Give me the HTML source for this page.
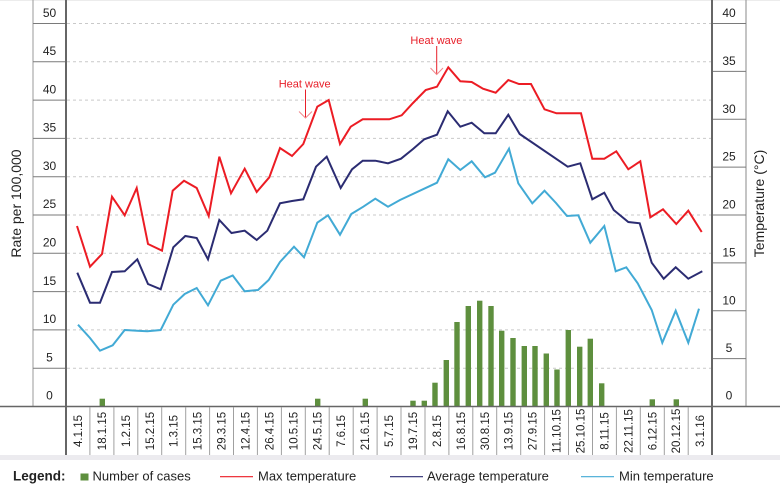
<!DOCTYPE html>
<html><head><meta charset="utf-8"><style>
html,body{margin:0;padding:0;background:#fff;}
svg{display:block;font-family:"Liberation Sans",Arial,sans-serif;}
</style></head><body>
<svg width="780" height="493" viewBox="0 0 780 493" xmlns="http://www.w3.org/2000/svg">
<rect x="0" y="0" width="780" height="493" fill="#fff"/>
<rect x="0" y="0" width="780" height="1" fill="#ececec"/>
<!-- gridlines -->
<g stroke="#c9c9c9" stroke-width="1" stroke-dasharray="3,3">
<line x1="67" y1="23.5" x2="711" y2="23.5"/>
<line x1="67" y1="61.8" x2="711" y2="61.8"/>
<line x1="67" y1="100.1" x2="711" y2="100.1"/>
<line x1="67" y1="138.4" x2="711" y2="138.4"/>
<line x1="67" y1="176.7" x2="711" y2="176.7"/>
<line x1="67" y1="215" x2="711" y2="215"/>
<line x1="67" y1="253.3" x2="711" y2="253.3"/>
<line x1="67" y1="291.6" x2="711" y2="291.6"/>
<line x1="67" y1="329.9" x2="711" y2="329.9"/>
<line x1="67" y1="368.2" x2="711" y2="368.2"/>
</g>
<!-- left axis box -->
<line x1="33" y1="0" x2="33" y2="406" stroke="#9a9a9a" stroke-width="1"/>
<g stroke="#7a7a7a" stroke-width="1">
<line x1="33" y1="23.5" x2="66" y2="23.5"/>
<line x1="33" y1="61.8" x2="66" y2="61.8"/>
<line x1="33" y1="100.1" x2="66" y2="100.1"/>
<line x1="33" y1="138.4" x2="66" y2="138.4"/>
<line x1="33" y1="176.7" x2="66" y2="176.7"/>
<line x1="33" y1="215" x2="66" y2="215"/>
<line x1="33" y1="253.3" x2="66" y2="253.3"/>
<line x1="33" y1="291.6" x2="66" y2="291.6"/>
<line x1="33" y1="329.9" x2="66" y2="329.9"/>
<line x1="33" y1="368.2" x2="66" y2="368.2"/>
</g>
<g font-size="12" fill="#222" text-anchor="middle">
<text x="49.5" y="17">50</text>
<text x="49.5" y="55">45</text>
<text x="49.5" y="93.3">40</text>
<text x="49.5" y="131.6">35</text>
<text x="49.5" y="169.9">30</text>
<text x="49.5" y="208.2">25</text>
<text x="49.5" y="246.5">20</text>
<text x="49.5" y="284.8">15</text>
<text x="49.5" y="323.1">10</text>
<text x="49.5" y="361.4">5</text>
<text x="49.5" y="399.3">0</text>
</g>
<!-- right axis box -->
<line x1="746" y1="0" x2="746" y2="406" stroke="#8a8a8a" stroke-width="1"/>
<g stroke="#7a7a7a" stroke-width="1">
<line x1="712" y1="23.5" x2="746" y2="23.5"/>
<line x1="712" y1="71.4" x2="746" y2="71.4"/>
<line x1="712" y1="119.3" x2="746" y2="119.3"/>
<line x1="712" y1="167.1" x2="746" y2="167.1"/>
<line x1="712" y1="215" x2="746" y2="215"/>
<line x1="712" y1="262.9" x2="746" y2="262.9"/>
<line x1="712" y1="310.8" x2="746" y2="310.8"/>
<line x1="712" y1="358.6" x2="746" y2="358.6"/>
</g>
<g font-size="12" fill="#222" text-anchor="middle">
<text x="729" y="17">40</text>
<text x="729" y="65">35</text>
<text x="729" y="112.8">30</text>
<text x="729" y="160.6">25</text>
<text x="729" y="208.5">20</text>
<text x="729" y="256.4">15</text>
<text x="729" y="304.3">10</text>
<text x="729" y="352.1">5</text>
<text x="729" y="399.3">0</text>
</g>
<!-- axis titles -->
<text transform="translate(21,203.5) rotate(-90)" font-size="14" fill="#222" text-anchor="middle">Rate per 100,000</text>
<text transform="translate(764,203.5) rotate(-90)" font-size="14" fill="#222" text-anchor="middle">Temperature (°C)</text>
<!-- bars -->
<g fill="#5e8f3e">
<rect x="99.6" y="398.7" width="5.4" height="7.3"/>
<rect x="315" y="398.7" width="5.4" height="7.3"/>
<rect x="362.6" y="398.7" width="5.4" height="7.3"/>
<rect x="410.3" y="400.7" width="5.4" height="5.3"/>
<rect x="421.6" y="400.7" width="5.4" height="5.3"/>
<rect x="432.3" y="382.7" width="5.4" height="23.3"/>
<rect x="443.6" y="360" width="5.4" height="46"/>
<rect x="454.3" y="322" width="5.4" height="84"/>
<rect x="465.6" y="306" width="5.4" height="100"/>
<rect x="477" y="300.7" width="5.4" height="105.3"/>
<rect x="488.3" y="306" width="5.4" height="100"/>
<rect x="499" y="330.7" width="5.4" height="75.3"/>
<rect x="510.3" y="338" width="5.4" height="68"/>
<rect x="521.6" y="346" width="5.4" height="60"/>
<rect x="532.3" y="346" width="5.4" height="60"/>
<rect x="543.6" y="353.5" width="5.4" height="52.5"/>
<rect x="554.3" y="369.5" width="5.4" height="36.5"/>
<rect x="565.6" y="330" width="5.4" height="76"/>
<rect x="577" y="346.7" width="5.4" height="59.3"/>
<rect x="587.6" y="338.7" width="5.4" height="67.3"/>
<rect x="599" y="383.3" width="5.4" height="22.7"/>
<rect x="649.6" y="399.3" width="5.4" height="6.7"/>
<rect x="673.6" y="399.3" width="5.4" height="6.7"/>
</g>
<!-- lines -->
<g fill="none" stroke-width="2" stroke-linejoin="miter" stroke-miterlimit="4">
<polyline stroke="#42aad5" points="78,324.7 90,338 100,350.7 112.7,345.3 124.7,330 137,330.7 147.3,331.3 160.7,330 173.3,304.7 184.7,294 196.7,288 208,305.3 220.7,280.7 232.7,275.5 244.7,291.3 258,290 268.7,280 280,262 294,246.7 304,257.3 317.3,222.7 328,215.3 340,234.7 351.3,214 363.3,206.7 375.3,198.7 388,206.7 400,200 437,182.7 448.3,159.3 460.3,170 471.7,161.3 485,177.3 495,172.7 509,148.7 518.3,183.3 532.3,203.3 544.5,190.7 556,203 567,216 578.3,215.3 590.3,242.7 604.3,226 615.7,271.3 626.3,267.3 637.7,283.3 651.7,310 662.3,342.7 675.7,310.7 688.3,342.7 699,308.7"/>
<polyline stroke="#2b2c72" points="77.3,272.7 90,302.7 100,302.7 112,272 124.7,271.3 137.3,259.3 148,284 160.7,289.3 173.3,247.3 185.3,236 196.7,238 208,259.3 219.3,220 231.5,233 244.7,230.7 256.7,240 267.3,230.7 280,203.3 292,201 303.3,199.3 316,166.7 326.7,156.7 340.7,188 352,169.3 362.7,160.7 375.3,160.7 388,163.3 401,158.7 413,149 424.3,139.3 437,134.7 447.7,111.3 460.3,126.7 471.7,122.7 484.3,133.3 495.7,133.3 508.3,114.7 519.7,134 567.7,166.7 580.3,163.3 592.3,199.3 604.3,192.7 613.7,210 628.3,222 639.7,223.3 651.7,262.7 663.7,278.7 675.7,267.3 688.3,278.7 702.3,271.3"/>
<polyline stroke="#ec1c24" points="77,226 90,266.7 102,254 112,196.7 124.7,215.3 136.7,188 148,244 162,250.7 172.7,190.7 184,180.7 196.7,188 208.7,216 219.3,156.7 231,193.3 244.7,168.7 256.7,192 269.3,177.3 280,148 292,156 303.3,144 317.3,106.7 328.7,100 340,144 350.7,126.7 362.7,119.3 376,119.3 389.3,119.3 401.7,115.3 413,103 425.7,90 437,86.7 448.3,67.3 460.3,81.3 471.7,82 483,88.7 495.7,92.7 508.3,80 519,84 531,84 544.5,109.3 556.5,113.3 569,113.3 581,113.3 592.3,158.7 604.3,158.7 616.3,151.3 628.3,169.3 640.3,161.3 650.3,217.3 663,209.3 676.3,224 688.3,210.7 701.7,232"/>
</g>
<!-- heat wave annotations -->
<g fill="#e8202a" font-size="11" text-anchor="middle">
<text x="304.7" y="87.5">Heat wave</text>
<text x="436.4" y="44">Heat wave</text>
</g>
<g stroke="#e8202a" stroke-width="1" fill="none">
<line x1="305.5" y1="89.5" x2="305.5" y2="118"/>
<line x1="436.7" y1="46" x2="436.7" y2="74.5"/>
</g>
<g stroke="#f08a8e" stroke-width="1" fill="none">
<polyline points="299,111.5 305.5,118 312,111.5"/>
<polyline points="430.5,68 436.7,74.5 443,68"/>
</g>
<!-- main frame verticals -->
<line x1="66" y1="0" x2="66" y2="455" stroke="#666" stroke-width="2"/>
<line x1="712" y1="0" x2="712" y2="455" stroke="#666" stroke-width="2"/>
<!-- x axis -->
<line x1="0" y1="406.5" x2="780" y2="406.5" stroke="#666" stroke-width="1.5"/>
<g stroke="#a0a0a0" stroke-width="1">
<line x1="89.9" y1="407" x2="89.9" y2="455"/>
<line x1="113.9" y1="407" x2="113.9" y2="455"/>
<line x1="137.8" y1="407" x2="137.8" y2="455"/>
<line x1="161.7" y1="407" x2="161.7" y2="455"/>
<line x1="185.7" y1="407" x2="185.7" y2="455"/>
<line x1="209.6" y1="407" x2="209.6" y2="455"/>
<line x1="233.5" y1="407" x2="233.5" y2="455"/>
<line x1="257.4" y1="407" x2="257.4" y2="455"/>
<line x1="281.4" y1="407" x2="281.4" y2="455"/>
<line x1="305.3" y1="407" x2="305.3" y2="455"/>
<line x1="329.2" y1="407" x2="329.2" y2="455"/>
<line x1="353.2" y1="407" x2="353.2" y2="455"/>
<line x1="377.1" y1="407" x2="377.1" y2="455"/>
<line x1="401" y1="407" x2="401" y2="455"/>
<line x1="425" y1="407" x2="425" y2="455"/>
<line x1="448.9" y1="407" x2="448.9" y2="455"/>
<line x1="472.8" y1="407" x2="472.8" y2="455"/>
<line x1="496.7" y1="407" x2="496.7" y2="455"/>
<line x1="520.7" y1="407" x2="520.7" y2="455"/>
<line x1="544.6" y1="407" x2="544.6" y2="455"/>
<line x1="568.5" y1="407" x2="568.5" y2="455"/>
<line x1="592.5" y1="407" x2="592.5" y2="455"/>
<line x1="616.4" y1="407" x2="616.4" y2="455"/>
<line x1="640.3" y1="407" x2="640.3" y2="455"/>
<line x1="664.3" y1="407" x2="664.3" y2="455"/>
<line x1="688.2" y1="407" x2="688.2" y2="455"/>
</g>
<g font-size="11.5" fill="#222" text-anchor="middle">
<text transform="translate(82,431) rotate(-90)">4.1.15</text>
<text transform="translate(105.9,431) rotate(-90)">18.1.15</text>
<text transform="translate(129.8,431) rotate(-90)">1.2.15</text>
<text transform="translate(153.8,431) rotate(-90)">15.2.15</text>
<text transform="translate(177.7,431) rotate(-90)">1.3.15</text>
<text transform="translate(201.6,431) rotate(-90)">15.3.15</text>
<text transform="translate(225.6,431) rotate(-90)">29.3.15</text>
<text transform="translate(249.5,431) rotate(-90)">12.4.15</text>
<text transform="translate(273.4,431) rotate(-90)">26.4.15</text>
<text transform="translate(297.3,431) rotate(-90)">10.5.15</text>
<text transform="translate(321.3,431) rotate(-90)">24.5.15</text>
<text transform="translate(345.2,431) rotate(-90)">7.6.15</text>
<text transform="translate(369.1,431) rotate(-90)">21.6.15</text>
<text transform="translate(393.1,431) rotate(-90)">5.7.15</text>
<text transform="translate(417,431) rotate(-90)">19.7.15</text>
<text transform="translate(440.9,431) rotate(-90)">2.8.15</text>
<text transform="translate(464.9,431) rotate(-90)">16.8.15</text>
<text transform="translate(488.8,431) rotate(-90)">30.8.15</text>
<text transform="translate(512.7,431) rotate(-90)">13.9.15</text>
<text transform="translate(536.6,431) rotate(-90)">27.9.15</text>
<text transform="translate(560.6,431) rotate(-90)">11.10.15</text>
<text transform="translate(584.5,431) rotate(-90)">25.10.15</text>
<text transform="translate(608.4,431) rotate(-90)">8.11.15</text>
<text transform="translate(632.4,431) rotate(-90)">22.11.15</text>
<text transform="translate(656.3,431) rotate(-90)">6.12.15</text>
<text transform="translate(680.2,431) rotate(-90)">20.12.15</text>
<text transform="translate(704.2,431) rotate(-90)">3.1.16</text>
</g>
<!-- bottom band -->
<rect x="0" y="455" width="780" height="5" fill="#ecebef"/>
<!-- legend -->
<text x="13" y="480.5" font-size="13.5" font-weight="bold" fill="#222">Legend:</text>
<rect x="80.5" y="473.5" width="8" height="7" fill="#5e8f3e"/>
<text x="92.5" y="480.5" font-size="13" fill="#222">Number of cases</text>
<line x1="220" y1="476.7" x2="253" y2="476.7" stroke="#ec1c24" stroke-width="1.2"/>
<text x="258" y="480.5" font-size="13" fill="#222">Max temperature</text>
<line x1="390" y1="476.7" x2="423" y2="476.7" stroke="#2b2c72" stroke-width="1.2"/>
<text x="427" y="480.5" font-size="13" fill="#222">Average temperature</text>
<line x1="581" y1="476.7" x2="614" y2="476.7" stroke="#42aad5" stroke-width="1.2"/>
<text x="619" y="480.5" font-size="13" fill="#222">Min temperature</text>
</svg>
</body></html>
